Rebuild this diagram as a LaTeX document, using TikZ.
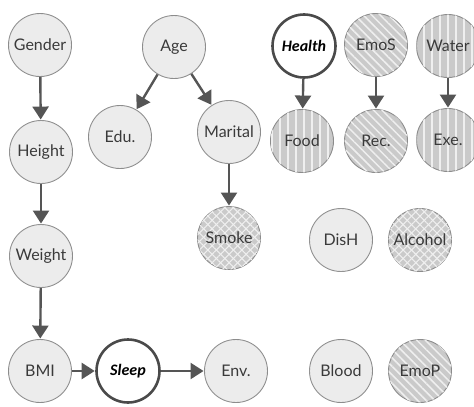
\documentclass[tikz,border=0pt]{standalone}
\usepackage{fontspec}
\setmainfont{Lato}
\newfontfamily\accentfont{Carlito}
\usetikzlibrary{arrows.meta,patterns.meta}
\definecolor{rimgray}{HTML}{8C8C8C}
\definecolor{boldrim}{HTML}{4A4A4A}
\definecolor{paleface}{HTML}{EDEDED}
\definecolor{midface}{HTML}{CACACA}
\definecolor{inkgray}{HTML}{3A3A3A}
\definecolor{arrowgray}{HTML}{555555}
\tikzset{
  var/.style={circle, minimum size=63pt, inner sep=0pt, draw=rimgray, line width=0.9pt,
    text=inkgray, font=\fontsize{16}{16}\selectfont},
  plainvar/.style={var, fill=paleface,
    postaction={pattern={Dots[distance=2pt, radius=0.3pt]}, pattern color=gray!20}},
  stripevar/.style={var, fill=midface,
    postaction={pattern={Lines[angle=90, distance=8pt, line width=1.8pt]}, pattern color=white!70!midface}},
  diagvar/.style={var, fill=midface,
    postaction={pattern={Lines[angle=-45, distance=6pt, line width=1.5pt]}, pattern color=white!70!midface}},
  hatchvar/.style={var, fill=midface,
    postaction={pattern={Lines[angle=45, distance=6pt, line width=1.1pt]}, pattern color=white!70!midface},
    postaction={pattern={Lines[angle=-45, distance=6pt, line width=1.1pt]}, pattern color=white!70!midface}},
  targetvar/.style={var, fill=white, draw=boldrim, line width=2.6pt,
    text=black, font=\accentfont\bfseries\itshape\fontsize{16}{16}\selectfont},
  link/.style={draw=arrowgray, line width=2.4pt,
    -{Triangle[width=16pt, length=13pt]}, shorten >=0.5pt}
}
\begin{document}
\begin{tikzpicture}[x=1pt, y=-1pt]
  \useasboundingbox (0,0) rectangle (474,407);
  \begin{scope}
  \clip (0,0) rectangle (474,407);
  % left chain
  \node[plainvar] (gender) at (40,45) {Gender};
  \node[plainvar] (height) at (41,152) {Height};
  \node[plainvar] (weight) at (41,256) {Weight};
  \node[plainvar] (bmi) at (40,371) {BMI};
  \node[targetvar] (sleep) at (128,371) {Sleep};
  \node[plainvar] (env) at (236,371) {Env.};
  % age branch
  \node[plainvar] (age) at (174,47) {Age};
  \node[plainvar] (edu) at (120,137) {Edu.};
  \node[plainvar] (marital) at (229,132) {Marital};
  \node[hatchvar] (smoke) at (229,238) {Smoke};
  % right block
  \node[targetvar] (health) at (304,46) {Health};
  \node[diagvar] (emos) at (376,45) {EmoS};
  \node[stripevar] (water) at (448,46) {Water};
  \node[stripevar] (food) at (302,141) {Food};
  \node[diagvar] (rec) at (376,141) {Rec.};
  \node[stripevar] (exe) at (448,140) {Exe.};
  \node[plainvar] (dish) at (341,240) {DisH};
  \node[hatchvar] (alcohol) at (420,240) {Alcohol};
  \node[plainvar] (blood) at (341,371) {Blood};
  \node[diagvar] (emop) at (420,371) {EmoP};
  % dependencies
  \draw[link] (gender) -- (height);
  \draw[link] (height) -- (weight);
  \draw[link] (weight) -- (bmi);
  \draw[link] (bmi) -- (sleep);
  \draw[link] (sleep) -- (env);
  \draw[link] (age) -- (edu);
  \draw[link] (age) -- (marital);
  \draw[link] (marital) -- (smoke);
  \draw[link] (health) -- (food);
  \draw[link] (emos) -- (rec);
  \draw[link] (water) -- (exe);
  \end{scope}
\end{tikzpicture}
\end{document}
